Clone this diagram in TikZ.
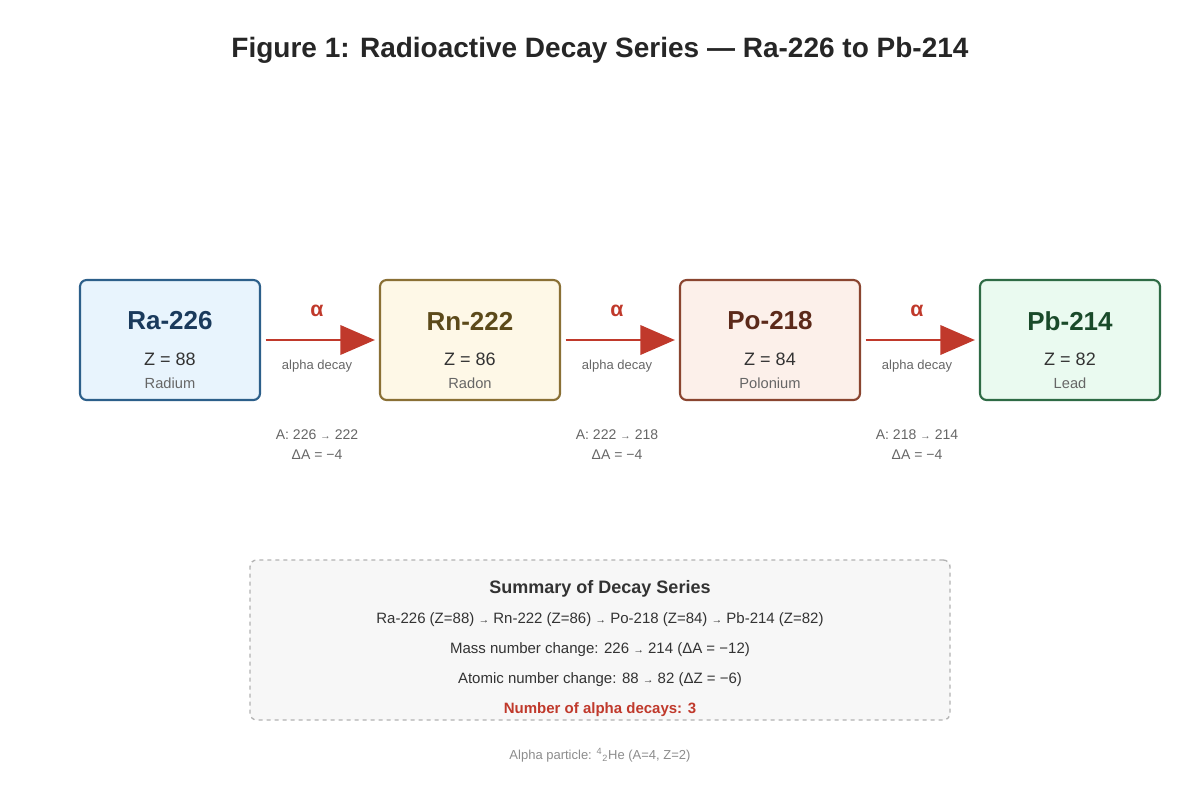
\documentclass[tikz,border=0pt]{standalone}
\usepackage{fontspec}
\setmainfont{Liberation Sans}
\usetikzlibrary{arrows.meta}
\definecolor{red1}{HTML}{C0392B}
\definecolor{txt}{HTML}{333333}
\definecolor{gr}{HTML}{666666}
\begin{document}
\begin{tikzpicture}[x=0.75pt,y=-0.75pt,
 box/.style={draw=#1!70!black,line width=1.6pt,rounded corners=5pt,minimum width=135pt,minimum height=90pt},
 arr/.style={draw=red1,line width=2.2pt,-{Triangle[length=26pt,width=22pt]}},
 small/.style={font=\fontsize{9.75}{11}\selectfont,text=gr},
 al/.style={font=\fontsize{16}{18}\selectfont\bfseries,text=red1},
 sl/.style={font=\fontsize{11.25}{13}\selectfont,text=txt}]
\useasboundingbox (0,0) rectangle (1200,800);
\node[font=\fontsize{21}{24}\selectfont\bfseries,text=black!85] (title) at (600,50) {Figure 1: Radioactive Decay Series — Ra-226 to Pb-214};
\def\nuc#1#2#3#4#5#6#7{%
 \node[draw=#5,fill=#6,line width=1.6pt,rounded corners=5pt,minimum width=135pt,minimum height=90pt] (#1) at (#7,340) {};
 \node[font=\fontsize{19.5}{22}\selectfont\bfseries,text=#4] (#1t) at (#7,321) {#2};
 \node[font=\fontsize{13.5}{15}\selectfont,text=txt] (#1z) at (#7,359) {Z = #3};
}
\definecolor{b1}{HTML}{2C5F8A}\definecolor{f1}{HTML}{E8F4FD}\definecolor{t1}{HTML}{1A3A5C}
\definecolor{b2}{HTML}{8A7035}\definecolor{f2}{HTML}{FEF8E7}\definecolor{t2}{HTML}{5C4A1A}
\definecolor{b3}{HTML}{8A4530}\definecolor{f3}{HTML}{FCF0EA}\definecolor{t3}{HTML}{5C2A1A}
\definecolor{b4}{HTML}{2E6B45}\definecolor{f4}{HTML}{EAFAF0}\definecolor{t4}{HTML}{1A4A2A}
\nuc{ra}{Ra-226}{88}{t1}{b1}{f1}{170}
\nuc{rn}{Rn-222}{86}{t2}{b2}{f2}{470}
\nuc{po}{Po-218}{84}{t3}{b3}{f3}{770}
\nuc{pb}{Pb-214}{82}{t4}{b4}{f4}{1070}
\node[font=\fontsize{11}{13}\selectfont,text=gr] (ran) at (170,383) {Radium};
\node[font=\fontsize{11}{13}\selectfont,text=gr] (rnn) at (470,383) {Radon};
\node[font=\fontsize{11}{13}\selectfont,text=gr] (pon) at (770,383) {Polonium};
\node[font=\fontsize{11}{13}\selectfont,text=gr] (pbn) at (1070,383) {Lead};
\foreach \a/\b/\x/\m/\n in {ra/rn/317/226/222, rn/po/617/222/218, po/pb/917/218/214}{
 \draw[arr] ([xshift=3.5pt]\a.east) -- ([xshift=-3pt]\b.west);
 \node[al] at (\x,311) {α};
 \node[small] at (\x,366) {alpha decay};
 \node[small,font=\fontsize{10.5}{12}\selectfont] at (\x,435) {A: \m\ {\footnotesize →} \n};
 \node[small,font=\fontsize{10.5}{12}\selectfont] at (\x,455) {ΔA = −4};
}
\node[draw=black!30,dashed,line width=1pt,fill=black!3,rounded corners=5pt,minimum width=525pt,minimum height=120pt] (sum) at (600,640) {};
\node[font=\fontsize{13.5}{15}\selectfont\bfseries,text=txt] (st) at (600,589) {Summary of Decay Series};
\node[sl] (s1) at (600,620) {Ra-226 (Z=88) {\footnotesize →} Rn-222 (Z=86) {\footnotesize →} Po-218 (Z=84) {\footnotesize →} Pb-214 (Z=82)};
\node[sl] (s2) at (600,650) {Mass number change: 226 {\footnotesize →} 214 (ΔA = −12)};
\node[sl] (s3) at (600,680) {Atomic number change: 88 {\footnotesize →} 82 (ΔZ = −6)};
\node[sl,font=\fontsize{11.25}{13}\selectfont\bfseries,text=red1] (s4) at (600,710) {Number of alpha decays: 3};
\node[font=\fontsize{9.75}{11}\selectfont,text=black!45] (fn) at (600,755) {Alpha particle: \textsuperscript{4}\textsubscript{2}He (A=4, Z=2)};
\end{tikzpicture}
\end{document}
